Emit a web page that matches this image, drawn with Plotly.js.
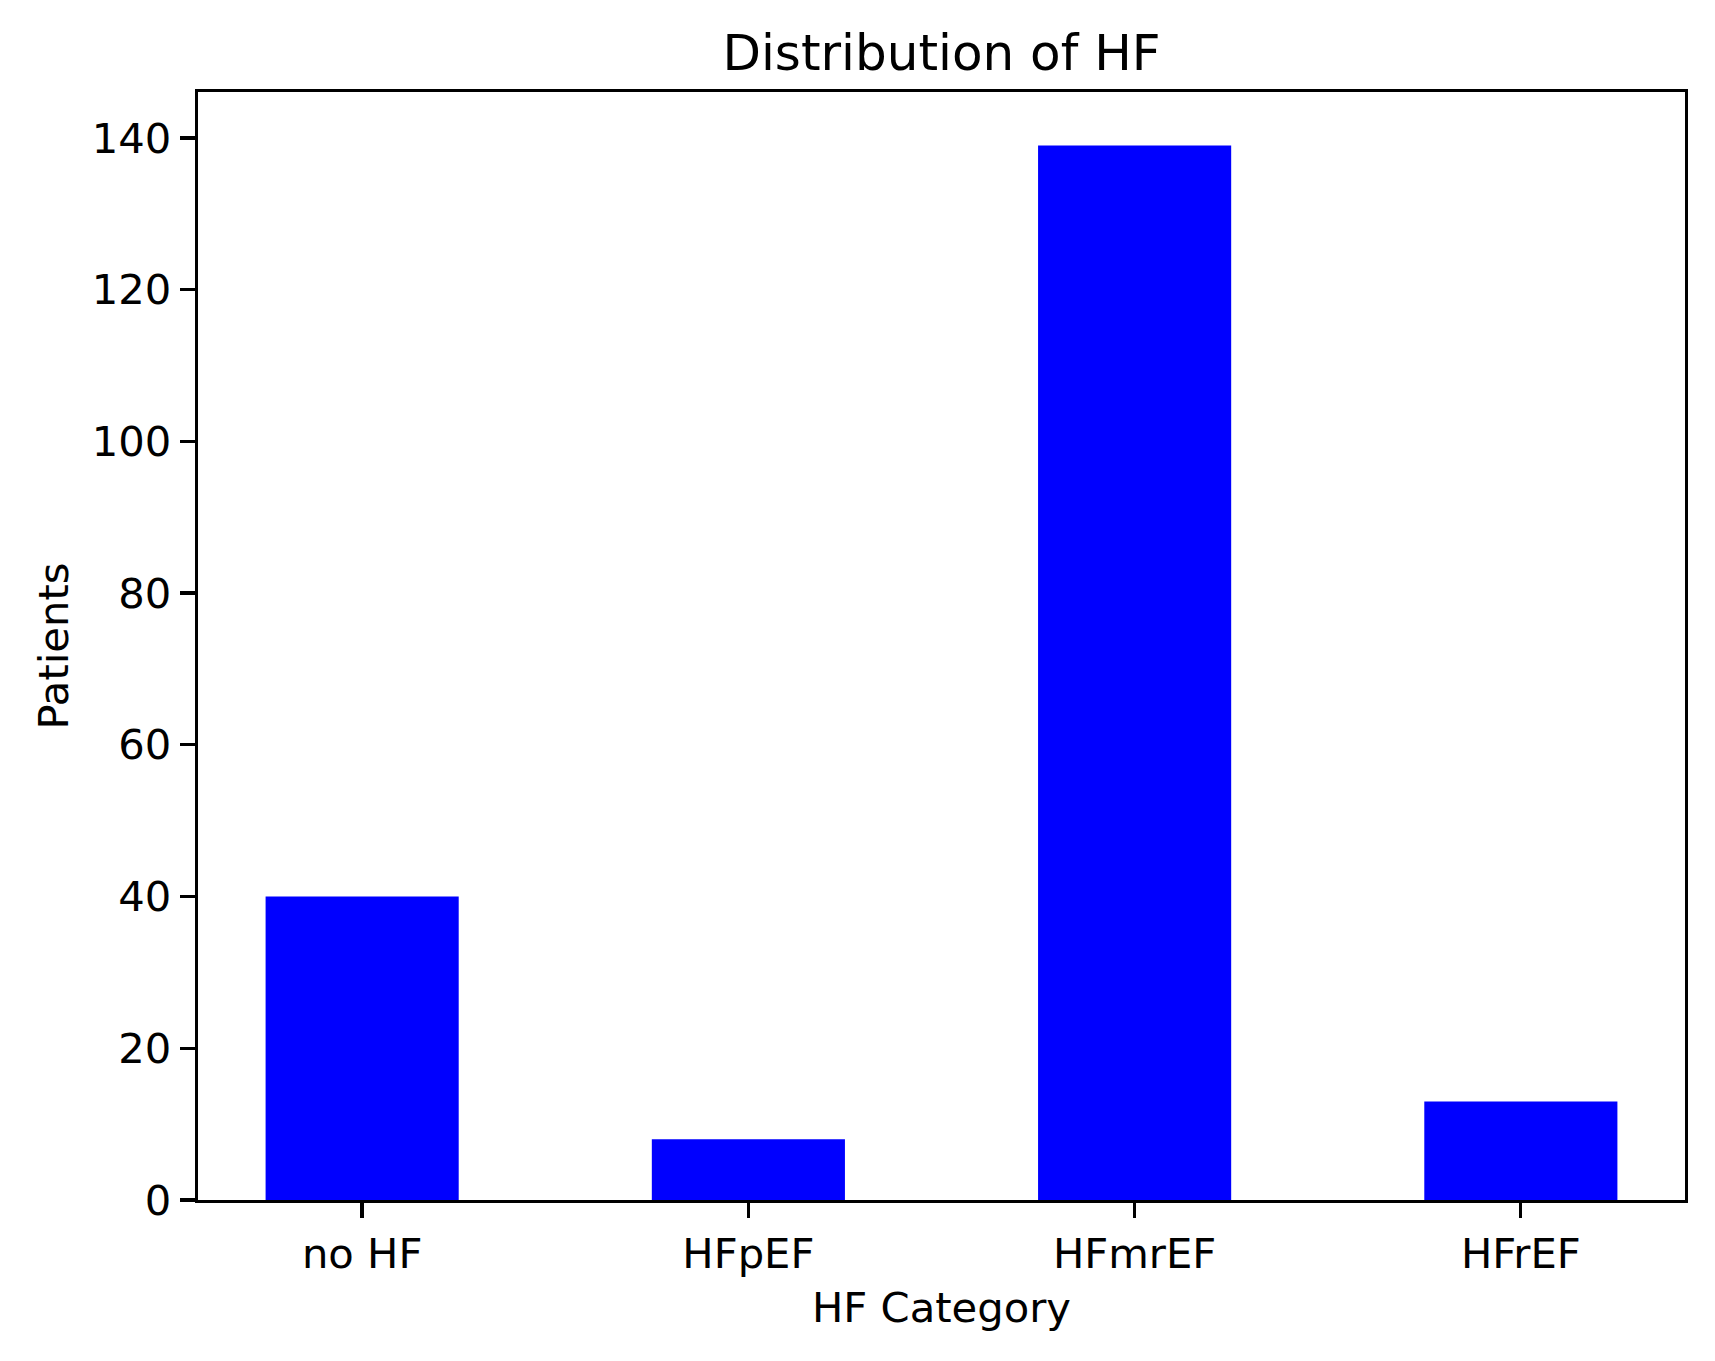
<!DOCTYPE html>
<html>
<head>
<meta charset="utf-8">
<script src="https://cdn.plot.ly/plotly-3.0.1.min.js"></script>
<style>html,body{margin:0;padding:0;background:#fff;}#chart{width:1715px;height:1361px;}</style>
</head>
<body>
<div id="chart"></div>
<script>
const categories = ["no HF", "HFpEF", "HFmrEF", "HFrEF"];
const patients = [40, 8, 139, 13];
const yTicks = [0, 20, 40, 60, 80, 100, 120, 140];

const FONT = "DejaVu Sans, sans-serif";
const trace = {
  type: "bar",
  x: categories,
  y: patients,
  width: 0.5,
  marker: {color: "#0000ff", line: {width: 0}},
  hoverinfo: "x+y"
};

const axisCommon = {
  showline: true, mirror: true, linecolor: "#000", linewidth: 3.3,
  ticks: "outside", ticklen: 15, tickwidth: 3.3, tickcolor: "#000",
  showgrid: false, zeroline: false,
  tickfont: {family: FONT, size: 41.7, color: "#000"}
};

const layout = {
  width: 1715, height: 1361,
  margin: {l: 198, r: 30, t: 92, b: 161, pad: 0},
  paper_bgcolor: "#fff", plot_bgcolor: "#fff",
  font: {family: FONT, color: "#000"},
  showlegend: false,
  title: {
    text: "Distribution of HF",
    font: {family: FONT, size: 50, color: "#000"},
    x: 0.5, xanchor: "center", xref: "paper",
    y: 1 - 52 / 1361, yanchor: "middle", yref: "container"
  },
  xaxis: Object.assign({}, axisCommon, {
    type: "category",
    range: [-0.425, 3.425],
    title: {text: "HF Category", font: {family: FONT, size: 41.7, color: "#000"}, standoff: 16}
  }),
  yaxis: Object.assign({}, axisCommon, {
    range: [0, 146.05],
    tickvals: yTicks,
    ticktext: yTicks.map(String),
    title: {text: "Patients", font: {family: FONT, size: 41.7, color: "#000"}, standoff: 11}
  })
};

Plotly.newPlot("chart", [trace], layout, {displayModeBar: false, staticPlot: true});
</script>
</body>
</html>
